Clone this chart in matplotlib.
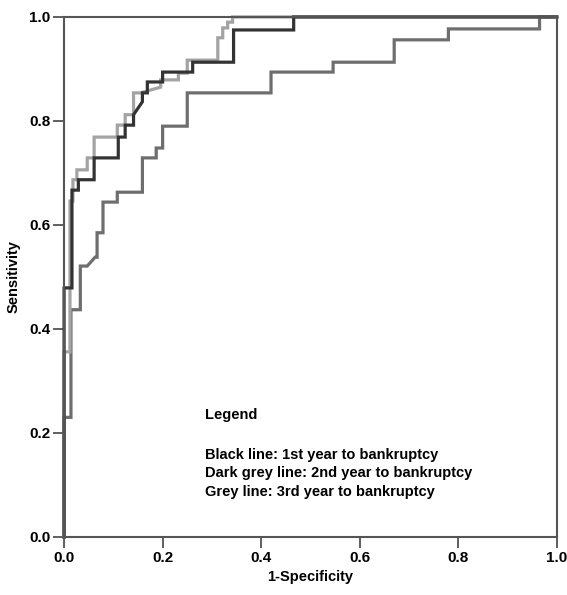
import matplotlib
matplotlib.use("Agg")
import matplotlib.pyplot as plt

plt.rcParams['font.family'] = ['Liberation Sans', 'DejaVu Sans']
plt.rcParams['font.weight'] = 'bold'

# ROC curve vertices (1-specificity, sensitivity)
year1_fpr = [0, 0, 0.016, 0.016, 0.029, 0.029, 0.061, 0.061, 0.11, 0.11, 0.124, 0.124,
             0.141, 0.141, 0.159, 0.159, 0.169, 0.169, 0.2, 0.2, 0.261, 0.261, 0.344,
             0.344, 0.466, 0.466, 1.0]
year1_tpr = [0, 0.479, 0.479, 0.667, 0.667, 0.687, 0.687, 0.729, 0.729, 0.769, 0.769, 0.792,
             0.792, 0.812, 0.837, 0.854, 0.854, 0.875, 0.875, 0.894, 0.894, 0.913, 0.913,
             0.975, 0.975, 1.0, 1.0]

year2_fpr = [0, 0, 0.012, 0.012, 0.018, 0.018, 0.026, 0.026, 0.047, 0.047, 0.061, 0.061,
             0.108, 0.108, 0.124, 0.124, 0.141, 0.141, 0.155, 0.196, 0.196, 0.232, 0.232,
             0.25, 0.25, 0.312, 0.312, 0.322, 0.322, 0.332, 0.332, 0.342, 0.342, 1.0]
year2_tpr = [0, 0.356, 0.356, 0.646, 0.646, 0.687, 0.687, 0.706, 0.706, 0.729, 0.729, 0.769,
             0.769, 0.792, 0.792, 0.812, 0.812, 0.854, 0.854, 0.865, 0.879, 0.879, 0.892,
             0.892, 0.917, 0.917, 0.96, 0.96, 0.979, 0.979, 0.99, 0.99, 1.0, 1.0]

year3_fpr = [0, 0, 0.014, 0.014, 0.033, 0.033, 0.047, 0.063, 0.067, 0.067, 0.079, 0.079,
             0.108, 0.108, 0.159, 0.159, 0.187, 0.187, 0.2, 0.2, 0.25, 0.25, 0.42, 0.42,
             0.546, 0.546, 0.67, 0.67, 0.78, 0.78, 0.965, 0.965, 1.0]
year3_tpr = [0, 0.23, 0.23, 0.437, 0.437, 0.521, 0.521, 0.538, 0.538, 0.585, 0.585, 0.644,
             0.644, 0.663, 0.663, 0.729, 0.729, 0.748, 0.748, 0.79, 0.79, 0.854, 0.854, 0.894,
             0.894, 0.913, 0.913, 0.956, 0.956, 0.977, 0.977, 1.0, 1.0]

ticks = [0.0, 0.2, 0.4, 0.6, 0.8, 1.0]
tick_labels = ['0.0', '0.2', '0.4', '0.6', '0.8', '1.0']
legend_lines = ['Black line: 1st year to bankruptcy',
                'Dark grey line: 2nd year to bankruptcy',
                'Grey line: 3rd year to bankruptcy']

fig = plt.figure(figsize=(5.67, 5.95), dpi=100)
ax = fig.add_axes([0.113, 0.0975, 0.869, 0.874])

ax.plot(year3_fpr, year3_tpr, color='#6e6e6e', lw=2.3, clip_on=False, solid_joinstyle='miter')
ax.plot(year2_fpr, year2_tpr, color='#a3a3a3', lw=2.3, clip_on=False, solid_joinstyle='miter')
ax.plot(year1_fpr, year1_tpr, color='#333333', lw=2.3, clip_on=False, solid_joinstyle='miter')

ax.set_xlim(0, 1)
ax.set_ylim(0, 1)
ax.set_xticks(ticks)
ax.set_xticklabels(tick_labels)
ax.set_yticks(ticks)
ax.set_yticklabels(tick_labels)
ax.tick_params(direction='out', length=8, width=1.2, color='#444444',
               labelsize=11, pad=2)
for s in ax.spines.values():
    s.set_color('#555555')
    s.set_linewidth(1.5)

ax.set_xlabel('1-Specificity', fontsize=10.5, fontweight='bold', labelpad=4)
ax.set_ylabel('Sensitivity', fontsize=10.5, fontweight='bold', labelpad=6)

# legend written as plain text inside the plot
ax.text(0.287, 0.235, 'Legend', fontsize=10.5, fontweight='bold', va='center')
for i, line in enumerate(legend_lines):
    ax.text(0.287, 0.158 - i * 0.0355, line, fontsize=10.5, fontweight='bold', va='center')

fig.savefig('out.png', dpi=100)
